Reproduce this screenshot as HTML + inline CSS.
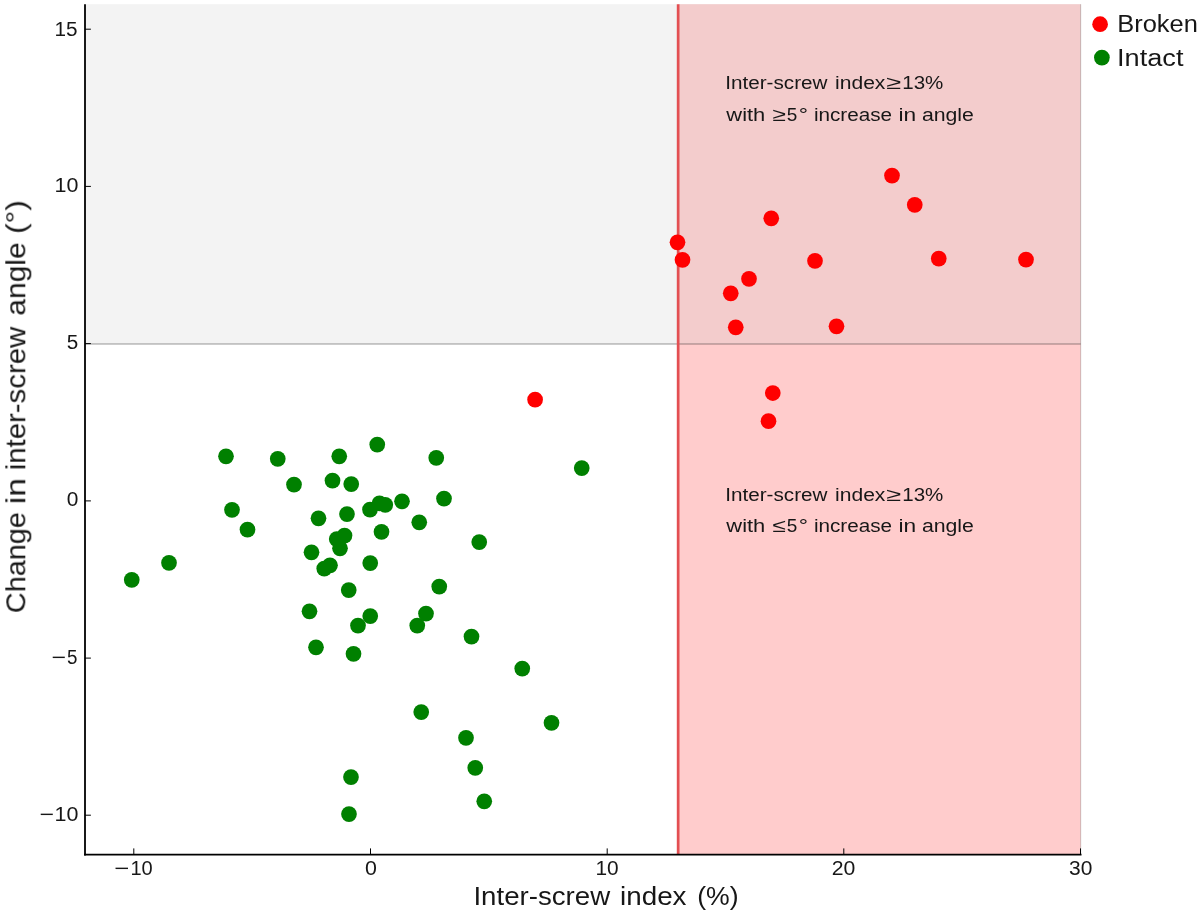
<!DOCTYPE html>
<html><head><meta charset="utf-8"><title>Inter-screw index vs change in inter-screw angle</title>
<style>html,body{margin:0;padding:0;background:#fff}svg{display:block}text{font-family:"Liberation Sans",sans-serif;fill:#161616;font-kerning:none}</style></head><body>
<svg width="1200" height="914" viewBox="0 0 1200 914">
<rect x="0" y="0" width="1200" height="914" fill="#ffffff"/>
<rect x="85.0" y="4.2" width="995.7" height="339.8" fill="#f3f3f3"/>
<rect x="678.2" y="344.0" width="402.5" height="510.6" fill="#ffcccc"/>
<rect x="678.2" y="4.2" width="402.5" height="339.8" fill="#f3cccc"/>
<line x1="1080.7" y1="4.2" x2="1080.7" y2="854.6" stroke="#000" stroke-opacity="0.2" stroke-width="1"/>
<line x1="85.0" y1="344" x2="1080.7" y2="344" stroke="#000" stroke-opacity="0.2" stroke-width="2"/>
<line x1="678.15" y1="4.2" x2="678.15" y2="854.6" stroke="#e34f52" stroke-width="2.7"/>
<g fill="#008000">
<circle cx="131.75" cy="579.85" r="7.85"/>
<circle cx="169" cy="562.85" r="7.85"/>
<circle cx="226" cy="456.35" r="7.85"/>
<circle cx="232" cy="509.85" r="7.85"/>
<circle cx="247.5" cy="529.60" r="7.85"/>
<circle cx="277.75" cy="458.85" r="7.85"/>
<circle cx="294" cy="484.60" r="7.85"/>
<circle cx="339.25" cy="456.35" r="7.85"/>
<circle cx="377.25" cy="444.60" r="7.85"/>
<circle cx="332.5" cy="480.60" r="7.85"/>
<circle cx="351.25" cy="484.10" r="7.85"/>
<circle cx="318.5" cy="518.35" r="7.85"/>
<circle cx="347" cy="514.10" r="7.85"/>
<circle cx="370" cy="509.60" r="7.85"/>
<circle cx="379.5" cy="503.35" r="7.85"/>
<circle cx="385.25" cy="504.85" r="7.85"/>
<circle cx="402" cy="501.35" r="7.85"/>
<circle cx="381.5" cy="531.85" r="7.85"/>
<circle cx="344.5" cy="535.60" r="7.85"/>
<circle cx="336.75" cy="539.10" r="7.85"/>
<circle cx="340" cy="548.35" r="7.85"/>
<circle cx="311.5" cy="552.35" r="7.85"/>
<circle cx="330" cy="565.35" r="7.85"/>
<circle cx="324.25" cy="568.60" r="7.85"/>
<circle cx="370.25" cy="563.10" r="7.85"/>
<circle cx="348.75" cy="590.10" r="7.85"/>
<circle cx="309.5" cy="611.35" r="7.85"/>
<circle cx="370.25" cy="616.10" r="7.85"/>
<circle cx="358" cy="625.60" r="7.85"/>
<circle cx="316" cy="647.35" r="7.85"/>
<circle cx="436.25" cy="457.85" r="7.85"/>
<circle cx="581.75" cy="468.10" r="7.85"/>
<circle cx="444" cy="498.60" r="7.85"/>
<circle cx="419.25" cy="522.35" r="7.85"/>
<circle cx="479.25" cy="542.10" r="7.85"/>
<circle cx="439.25" cy="586.60" r="7.85"/>
<circle cx="426" cy="613.60" r="7.85"/>
<circle cx="417.25" cy="625.60" r="7.85"/>
<circle cx="471.5" cy="636.60" r="7.85"/>
<circle cx="353.5" cy="653.85" r="7.85"/>
<circle cx="522.25" cy="668.60" r="7.85"/>
<circle cx="421.25" cy="712.10" r="7.85"/>
<circle cx="551.5" cy="722.85" r="7.85"/>
<circle cx="466" cy="737.85" r="7.85"/>
<circle cx="475.25" cy="767.85" r="7.85"/>
<circle cx="351" cy="777.10" r="7.85"/>
<circle cx="484.25" cy="801.35" r="7.85"/>
<circle cx="349" cy="814.10" r="7.85"/>
</g><g fill="#ff0000">
<circle cx="535.1" cy="399.65" r="7.85"/>
<circle cx="677.5" cy="242.35" r="7.85"/>
<circle cx="682.5" cy="259.85" r="7.85"/>
<circle cx="771.25" cy="218.35" r="7.85"/>
<circle cx="749" cy="278.85" r="7.85"/>
<circle cx="730.75" cy="293.35" r="7.85"/>
<circle cx="735.75" cy="327.35" r="7.85"/>
<circle cx="815" cy="260.85" r="7.85"/>
<circle cx="892" cy="175.60" r="7.85"/>
<circle cx="914.75" cy="204.85" r="7.85"/>
<circle cx="938.75" cy="258.60" r="7.85"/>
<circle cx="1026" cy="259.60" r="7.85"/>
<circle cx="836.5" cy="326.35" r="7.85"/>
<circle cx="772.8" cy="393.05" r="7.85"/>
<circle cx="768.5" cy="421.15" r="7.85"/>
</g>
<g stroke="#000" stroke-width="1">
<line x1="133.8" y1="854.6" x2="133.8" y2="848.4"/>
<line x1="370.5" y1="854.6" x2="370.5" y2="848.4"/>
<line x1="607.2" y1="854.6" x2="607.2" y2="848.4"/>
<line x1="843.8" y1="854.6" x2="843.8" y2="848.4"/>
<line x1="1080.5" y1="854.6" x2="1080.5" y2="848.4"/>
<line x1="85.0" y1="815.2" x2="90.9" y2="815.2"/>
<line x1="85.0" y1="658.1" x2="90.9" y2="658.1"/>
<line x1="85.0" y1="500.9" x2="90.9" y2="500.9"/>
<line x1="85.0" y1="343.6" x2="90.9" y2="343.6"/>
<line x1="85.0" y1="186.4" x2="90.9" y2="186.4"/>
<line x1="85.0" y1="29.2" x2="90.9" y2="29.2"/>
</g>
<line x1="85.0" y1="4.2" x2="85.0" y2="855.5" stroke="#000" stroke-width="1.8"/>
<line x1="84.1" y1="854.6" x2="1081.5" y2="854.6" stroke="#000" stroke-width="1.8"/>
<g opacity="0.995">
<text x="114.23" y="875.2" font-size="20" textLength="15.03" lengthAdjust="spacingAndGlyphs">−</text>
<text x="130.47" y="875.2" font-size="20" textLength="22.31" lengthAdjust="spacingAndGlyphs">10</text>
<text x="364.97" y="875.2" font-size="20" textLength="11.87" lengthAdjust="spacingAndGlyphs">0</text>
<text x="595.41" y="875.2" font-size="20" textLength="23.20" lengthAdjust="spacingAndGlyphs">10</text>
<text x="831.73" y="875.2" font-size="20" textLength="23.60" lengthAdjust="spacingAndGlyphs">20</text>
<text x="1069.00" y="875.2" font-size="20" textLength="23.32" lengthAdjust="spacingAndGlyphs">30</text>
<text x="54.52" y="35.5" font-size="20" textLength="23.05" lengthAdjust="spacingAndGlyphs">15</text>
<text x="54.47" y="192.0" font-size="20" textLength="23.87" lengthAdjust="spacingAndGlyphs">10</text>
<text x="66.67" y="349.3" font-size="20" textLength="11.50" lengthAdjust="spacingAndGlyphs">5</text>
<text x="66.68" y="506.0" font-size="20" textLength="11.63" lengthAdjust="spacingAndGlyphs">0</text>
<text x="51.47" y="664.1" font-size="20" textLength="14.54" lengthAdjust="spacingAndGlyphs">−</text>
<text x="67.05" y="664.1" font-size="20" textLength="10.44" lengthAdjust="spacingAndGlyphs">5</text>
<text x="39.47" y="820.8" font-size="20" textLength="14.54" lengthAdjust="spacingAndGlyphs">−</text>
<text x="54.47" y="820.8" font-size="20" textLength="23.87" lengthAdjust="spacingAndGlyphs">10</text>
<text x="473.45" y="905" font-size="26" textLength="136.68" lengthAdjust="spacingAndGlyphs">Inter-screw</text>
<text x="620.04" y="905" font-size="26" textLength="66.46" lengthAdjust="spacingAndGlyphs">index</text>
<text x="697.15" y="905" font-size="26" textLength="41.40" lengthAdjust="spacingAndGlyphs">(%)</text>
<g transform="translate(25.3 611.7) rotate(-90)">
<text x="-1.47" y="0" font-size="28" textLength="101.15" lengthAdjust="spacingAndGlyphs">Change</text>
<text x="107.45" y="0" font-size="28" textLength="26.13" lengthAdjust="spacingAndGlyphs">in</text>
<text x="141.44" y="0" font-size="28" textLength="143.49" lengthAdjust="spacingAndGlyphs">inter-screw</text>
<text x="296.13" y="0" font-size="28" textLength="73.20" lengthAdjust="spacingAndGlyphs">angle</text>
<text x="377.72" y="0" font-size="28" textLength="33.95" lengthAdjust="spacingAndGlyphs">(°)</text>
</g>
<text x="725.29" y="89.0" font-size="18.9" textLength="102.16" lengthAdjust="spacingAndGlyphs">Inter-screw</text>
<text x="835.09" y="89.0" font-size="18.9" textLength="50.33" lengthAdjust="spacingAndGlyphs">index</text>
<text x="885.94" y="89.0" font-size="18.9" textLength="14.91" lengthAdjust="spacingAndGlyphs">≥</text>
<text x="902.24" y="89.0" font-size="18.9" textLength="41.10" lengthAdjust="spacingAndGlyphs">13%</text>
<text x="726.33" y="120.5" font-size="18.9" textLength="38.99" lengthAdjust="spacingAndGlyphs">with</text>
<text x="772.32" y="120.5" font-size="18.9" textLength="13.44" lengthAdjust="spacingAndGlyphs">≥</text>
<text x="786.84" y="120.5" font-size="18.9" textLength="10.56" lengthAdjust="spacingAndGlyphs">5</text>
<text x="798.82" y="120.5" font-size="18.9" textLength="9.27" lengthAdjust="spacingAndGlyphs">°</text>
<text x="813.92" y="120.5" font-size="18.9" textLength="78.20" lengthAdjust="spacingAndGlyphs">increase</text>
<text x="898.48" y="120.5" font-size="18.9" textLength="17.70" lengthAdjust="spacingAndGlyphs">in</text>
<text x="921.90" y="120.5" font-size="18.9" textLength="52.05" lengthAdjust="spacingAndGlyphs">angle</text>
<text x="725.29" y="500.5" font-size="18.9" textLength="102.16" lengthAdjust="spacingAndGlyphs">Inter-screw</text>
<text x="835.09" y="500.5" font-size="18.9" textLength="50.33" lengthAdjust="spacingAndGlyphs">index</text>
<text x="885.94" y="500.5" font-size="18.9" textLength="14.91" lengthAdjust="spacingAndGlyphs">≥</text>
<text x="902.24" y="500.5" font-size="18.9" textLength="41.10" lengthAdjust="spacingAndGlyphs">13%</text>
<text x="726.33" y="532.0" font-size="18.9" textLength="38.99" lengthAdjust="spacingAndGlyphs">with</text>
<text x="772.35" y="532.0" font-size="18.9" textLength="13.42" lengthAdjust="spacingAndGlyphs">≤</text>
<text x="786.84" y="532.0" font-size="18.9" textLength="10.56" lengthAdjust="spacingAndGlyphs">5</text>
<text x="798.82" y="532.0" font-size="18.9" textLength="9.27" lengthAdjust="spacingAndGlyphs">°</text>
<text x="813.92" y="532.0" font-size="18.9" textLength="78.20" lengthAdjust="spacingAndGlyphs">increase</text>
<text x="898.48" y="532.0" font-size="18.9" textLength="17.70" lengthAdjust="spacingAndGlyphs">in</text>
<text x="921.90" y="532.0" font-size="18.9" textLength="52.05" lengthAdjust="spacingAndGlyphs">angle</text>
<text x="1117.21" y="32.1" font-size="23" textLength="80.64" lengthAdjust="spacingAndGlyphs">Broken</text>
<text x="1117.09" y="65.6" font-size="23" textLength="66.40" lengthAdjust="spacingAndGlyphs">Intact</text>
</g>
<circle cx="1100.1" cy="24.2" r="7.85" fill="#ff0000"/>
<circle cx="1101.9" cy="57.6" r="7.85" fill="#008000"/>
</svg></body></html>
